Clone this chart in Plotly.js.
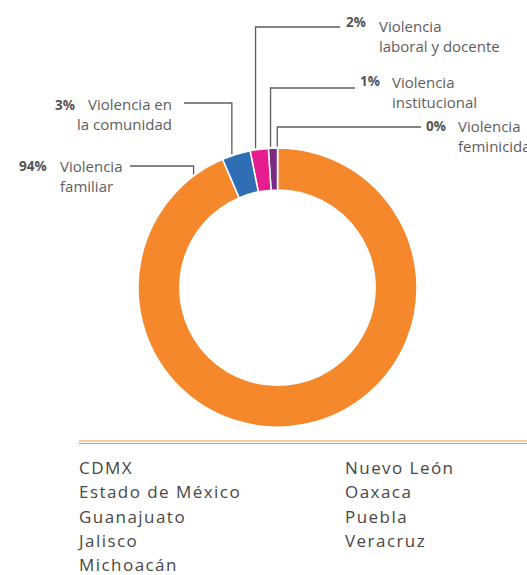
<!DOCTYPE html>
<html>
<head>
<meta charset="utf-8">
<script src="https://cdn.plot.ly/plotly-3.0.1.min.js"></script>
<style>
html,body{margin:0;padding:0;background:#fff;}
#chart{width:527px;height:575px;}
</style>
</head>
<body>
<div id="chart"></div>
<script>
// ---- data ----
const categories = ['Violencia feminicida', 'Violencia institucional', 'Violencia laboral y docente', 'Violencia en la comunidad', 'Violencia familiar'];
const values = [0.05, 1.05, 2.1, 3.3, 93.5];
const pctLabels = ['0%', '1%', '2%', '3%', '94%'];
const labelLines = ['Violencia<br>feminicida', 'Violencia<br>institucional', 'Violencia<br>laboral y docente', 'Violencia en<br>la comunidad', 'Violencia<br>familiar'];
const colors = ['#7a2a82', '#7a2a82', '#e81d8d', '#2f6eb5', '#f5882a'];
const statesCol1 = ['CDMX', 'Estado de México', 'Guanajuato', 'Jalisco', 'Michoacán'];
const statesCol2 = ['Nuevo León', 'Oaxaca', 'Puebla', 'Veracruz'];

// ---- layout geometry (pixels) ----
const W = 527, H = 575;
const cx = 277.5, cy = 287.6, R = 139.5;
const px = x => x / W;
const py = y => 1 - y / H;

// leader line placement within each slice (fraction of slice) and label layout
const leaderFrac = [0.5, 0.7, 0.66, 0.62, 0.039];
const leaderY = [127, 88, 27, 103, 166];
const leaderEndX = [421, 355, 340, 184, 130];
const pctPos = [[448, 125.5, 'right'], [382, 81.5, 'right'], [368, 22.5, 'right'], [77, 105, 'right'], [48.5, 166, 'right']];
const labelPos = [[456, 135.5, 'left'], [390, 91.5, 'left'], [377, 35.5, 'left'], [173.5, 113.5, 'right'], [58, 175.5, 'left']];

const total = values.reduce((a, b) => a + b, 0);
let cum = 0;
const shapes = [];
const annotations = [];
values.forEach((v, i) => {
  const f = (cum + leaderFrac[i] * v) / total;
  cum += v;
  const th = 2 * Math.PI * f; // counterclockwise from top
  const ax = cx - (R + 1.5) * Math.sin(th);
  const ay = cy - (R + 1.5) * Math.cos(th);
  shapes.push({
    type: 'path', xref: 'paper', yref: 'paper',
    path: `M ${px(leaderEndX[i])} ${py(leaderY[i])} L ${px(ax)} ${py(leaderY[i])} L ${px(ax)} ${py(ay)}`,
    line: {color: '#5b5b5b', width: 1.3}
  });
  annotations.push({
    xref: 'paper', yref: 'paper', x: px(pctPos[i][0]), y: py(pctPos[i][1]),
    xanchor: pctPos[i][2], yanchor: 'middle', showarrow: false,
    text: '<b>' + pctLabels[i] + '</b>',
    font: {family: 'Open Sans', size: 13.5, color: '#555555'}
  });
  annotations.push({
    xref: 'paper', yref: 'paper', x: px(labelPos[i][0]), y: py(labelPos[i][1]),
    xanchor: labelPos[i][2], yanchor: 'middle', align: labelPos[i][2], showarrow: false,
    text: labelLines[i],
    font: {family: 'Open Sans', size: 15, color: '#5e5e5e'}
  });
});

// separator double line
[441, 443.5].forEach(y => shapes.push({
  type: 'line', xref: 'paper', yref: 'paper', x0: px(79), x1: 1, y0: py(y), y1: py(y),
  line: {color: '#f0944c', width: 1.1}
}));

const nLabelAnn = annotations.length;
const rowY0 = 467.5, rowStep = 24.25;
[[statesCol1, 79], [statesCol2, 345]].forEach(([list, x]) => {
  list.forEach((s, k) => annotations.push({
    xref: 'paper', yref: 'paper', x: px(x), y: py(rowY0 + k * rowStep),
    xanchor: 'left', yanchor: 'middle', showarrow: false, text: s,
    font: {family: 'Open Sans', size: 17, color: '#474747'}
  }));
});

const trace = {
  type: 'pie',
  labels: categories,
  values: values,
  sort: false,
  direction: 'counterclockwise',
  rotation: 0,
  hole: 0.70,
  textinfo: 'none',
  hoverinfo: 'none',
  showlegend: false,
  marker: {colors: colors, line: {color: '#ffffff', width: 1.5}},
  domain: {x: [px(cx - R), px(cx + R)], y: [py(cy + R), py(cy - R)]}
};

const layout = {
  width: W, height: H,
  margin: {l: 0, r: 0, t: 0, b: 0},
  paper_bgcolor: '#ffffff',
  plot_bgcolor: '#ffffff',
  showlegend: false,
  shapes: shapes,
  annotations: annotations
};

Plotly.newPlot('chart', [trace], layout, {staticPlot: true}).then(gd => {
  gd.querySelectorAll('.annotation').forEach(g => {
    const idx = parseInt(g.getAttribute('data-index'), 10);
    if (idx >= nLabelAnn) {
      g.querySelectorAll('text.annotation-text').forEach(t => {
        const bb = t.getBBox();
        const x0 = bb.x - 2;
        t.setAttribute('text-anchor', 'start');
        t.setAttribute('x', x0);
        t.querySelectorAll('tspan').forEach(ts => { if (ts.hasAttribute('x')) ts.setAttribute('x', x0); });
        t.style.letterSpacing = '1.45px';
      });
    }
  });
});
</script>
</body>
</html>
